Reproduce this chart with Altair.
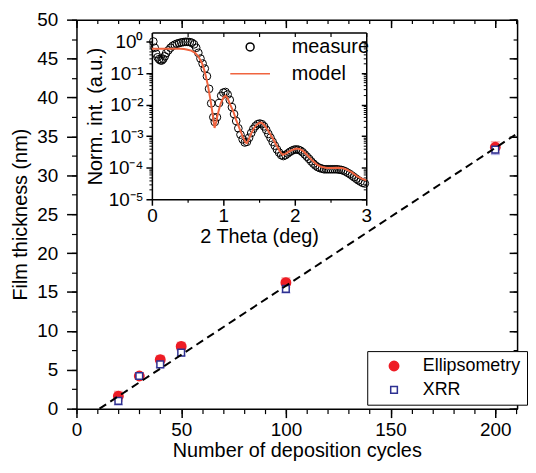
import altair as alt
import pandas as pd

FONT = "Liberation Sans"

# ---------------- main chart data ----------------
cycles = [20, 30, 40, 50, 100, 200]
ellip_thk = [1.6, 4.2, 6.3, 8.0, 16.2, 33.6]
ellip_err = [0.6, 0.4, 0.5, 0.5, 0.6, 0.7]
xrr_thk = [1.0, 4.2, 5.7, 7.2, 15.4, 33.3]
xrr_err = [0.5, 0.4, 0.4, 0.4, 0.5, 0.6]
fit_x = [11, 209.5]
fit_y = [0.0, 35.2]
series_names = ["Ellipsometry", "XRR"]
x_ticks = [0, 50, 100, 150, 200]
x_minor = list(range(0, 220, 10))
y_ticks = [0, 5, 10, 15, 20, 25, 30, 35, 40, 45, 50]
y_minor = [i * 2.5 for i in range(21)]

# ---------------- inset data ----------------
inset_series = ["measure", "model"]
model_theta = [0.00, 0.10, 0.20, 0.30, 0.40, 0.45, 0.50, 0.55, 0.60, 0.65, 0.70, 0.74, 0.78,
               0.82, 0.85, 0.877, 0.90, 0.92, 0.96, 1.00, 1.03, 1.06, 1.09, 1.14, 1.18, 1.23,
               1.27, 1.31, 1.33, 1.36, 1.39, 1.43, 1.46, 1.50, 1.53, 1.57, 1.62, 1.68, 1.74,
               1.79, 1.83, 1.87, 1.91, 1.96, 2.01, 2.06, 2.11, 2.17, 2.24, 2.31, 2.38, 2.45,
               2.52, 2.59, 2.66, 2.73, 2.80, 2.87, 2.94, 3.00]
model_log = [-0.23, -0.23, -0.23, -0.23, -0.23, -0.24, -0.26, -0.29, -0.35, -0.47, -0.68, -0.96,
             -1.35, -1.85, -2.30, -2.74, -2.55, -2.32, -1.98, -1.78, -1.72, -1.80, -1.97, -2.22,
             -2.49, -2.78, -3.01, -3.20, -3.22, -3.08, -2.91, -2.74, -2.65, -2.58, -2.57, -2.64,
             -2.80, -3.03, -3.27, -3.48, -3.59, -3.56, -3.50, -3.44, -3.40, -3.40, -3.46, -3.59,
             -3.76, -3.90, -3.98, -4.01, -4.01, -4.00, -4.01, -4.06, -4.15, -4.27, -4.35, -4.40]
meas_theta = [0.02, 0.04, 0.06, 0.08, 0.10, 0.12, 0.14, 0.16, 0.18, 0.20, 0.23, 0.26, 0.29,
              0.32, 0.35, 0.38, 0.41, 0.44, 0.47, 0.50, 0.53, 0.56, 0.59, 0.62, 0.65, 0.68,
              0.71, 0.74, 0.77, 0.80, 0.83, 0.86, 0.88, 0.91, 0.94, 0.97, 1.00, 1.03, 1.06,
              1.09, 1.12, 1.15, 1.18, 1.21, 1.24, 1.27, 1.30, 1.33, 1.36, 1.39, 1.42, 1.45,
              1.48, 1.51, 1.54, 1.57, 1.60, 1.63, 1.66, 1.69, 1.72, 1.75, 1.78, 1.81, 1.84,
              1.87, 1.90, 1.93, 1.96, 1.99, 2.02, 2.05, 2.08, 2.11, 2.14, 2.17, 2.20, 2.23,
              2.26, 2.29, 2.32, 2.35, 2.38, 2.41, 2.44, 2.47, 2.50, 2.53, 2.56, 2.59, 2.62,
              2.65, 2.68, 2.71, 2.74, 2.77, 2.80, 2.83, 2.86, 2.89, 2.92, 2.95, 2.98]
meas_log = [0.00, -0.20, -0.39, -0.50, -0.56, -0.60, -0.60, -0.55, -0.47, -0.37, -0.28, -0.20,
            -0.14, -0.10, -0.07, -0.05, -0.03, -0.02, -0.01, -0.01, -0.02, -0.04, -0.09, -0.20,
            -0.36, -0.54, -0.70, -0.86, -1.10, -1.50, -1.96, -2.40, -2.55, -2.40, -1.95, -1.72,
            -1.62, -1.60, -1.68, -1.85, -2.08, -2.30, -2.52, -2.75, -2.95, -3.10, -3.20, -3.18,
            -3.05, -2.90, -2.77, -2.68, -2.62, -2.60, -2.62, -2.69, -2.80, -2.93, -3.05, -3.18,
            -3.30, -3.42, -3.52, -3.60, -3.63, -3.60, -3.55, -3.50, -3.46, -3.43, -3.42, -3.43,
            -3.46, -3.51, -3.58, -3.65, -3.72, -3.80, -3.87, -3.93, -3.98, -4.01, -4.03, -4.05,
            -4.05, -4.05, -4.05, -4.05, -4.05, -4.05, -4.06, -4.07, -4.09, -4.12, -4.16, -4.20,
            -4.25, -4.30, -4.35, -4.40, -4.44, -4.48, -4.50]
inset_x_ticks = [0, 1, 2, 3]
inset_x_minor = [0.5, 1.5, 2.5]
inset_x_frame = [0, 0.5, 1, 1.5, 2, 2.5, 3]
inset_y_ticks = [1e-5, 1e-4, 1e-3, 1e-2, 1e-1, 1]
inset_y_minor = [m * 10.0 ** e for e in range(-5, 0) for m in range(2, 10)]

W, H = 444, 392
X_MAX = 210.4
# inset placement inside the plot area (pixels)
IX0, IX1 = 76, 292
IY_BOT, IY_TOP = 181, 13

# ---------------- frames ----------------
def series_df(vals, errs, name):
    return pd.DataFrame({
        "x": cycles, "y": vals,
        "lo": [v - e for v, e in zip(vals, errs)],
        "hi": [v + e for v, e in zip(vals, errs)],
        "series": name,
    })


ell_df = series_df(ellip_thk, ellip_err, series_names[0])
xrr_df = series_df(xrr_thk, xrr_err, series_names[1])
main_df = pd.concat([ell_df, xrr_df], ignore_index=True)
fit_df = pd.DataFrame({"x": fit_x, "y": fit_y})
meas_df = pd.DataFrame({"t": meas_theta, "I": [10 ** v for v in meas_log], "series": "measure"})
model_df = pd.DataFrame({"t": model_theta, "I": [10 ** v for v in model_log]})
dummy = pd.DataFrame({"x": [1.0], "y": [1.0]})


def ax(**kw):
    base = dict(grid=False, domainColor="black", tickColor="black", labelColor="black",
                labelFont=FONT, titleFont=FONT, labelFontSize=19, titleFontSize=20,
                titleColor="black", titleFontWeight="normal", labelFlush=False,
                labelOverlap=False)
    base.update(kw)
    return alt.Axis(**base)


main_xs = alt.Scale(domain=[0, X_MAX], nice=False, zero=False)
main_ys = alt.Scale(domain=[0, 50], nice=False, zero=False)
ins_xs = alt.Scale(domain=[0, 3], range=[IX0, IX1], nice=False, zero=False)
ins_ys = alt.Scale(type="log", domain=[1e-5, 1.92], range=[IY_BOT, IY_TOP], nice=False)

# ---- main axes ----
mx_axis = ax(orient="bottom", values=x_ticks, tickSize=9, tickWidth=1.5, domainWidth=1.5,
             labelPadding=3, titlePadding=1)
my_axis = ax(orient="left", values=y_ticks, tickSize=10, tickWidth=1.5, domainWidth=1.5,
             labelPadding=9, titlePadding=6)
XT = "Number of deposition cycles"
YT = "Film thickness (nm)"
MX = alt.X("x:Q", scale=main_xs, axis=mx_axis, title=XT)
MY = alt.Y("y:Q", scale=main_ys, axis=my_axis, title=YT)
MYLO = alt.Y("lo:Q", scale=main_ys, axis=my_axis, title=YT)
MYHI = alt.Y("hi:Q", scale=main_ys, axis=my_axis, title=YT)


def err_layers(df, col):
    r = alt.Chart(df).mark_rule(strokeWidth=2, color=col).encode(x=MX, y=MYLO, y2="hi:Q")
    lo = alt.Chart(df).mark_tick(orient="horizontal", size=9, thickness=1.8, color=col).encode(
        x=MX, y=MYLO)
    hi = alt.Chart(df).mark_tick(orient="horizontal", size=9, thickness=1.8, color=col).encode(
        x=MX, y=MYHI)
    return [r, lo, hi]


leg_main = alt.Legend(title=None, orient="none", legendX=293, legendY=334, strokeColor="black",
                      fillColor="white", padding=6, rowPadding=6, labelFontSize=18,
                      labelFont=FONT, labelColor="black", symbolOffset=12, labelOffset=20,
                      symbolStrokeWidth=1.5)
points = alt.Chart(main_df).mark_point(strokeWidth=1.5, opacity=1).encode(
    x=MX, y=MY,
    fill=alt.Fill("series:N", scale=alt.Scale(domain=series_names, range=["#ee1c25", "white"]),
                  legend=leg_main),
    stroke=alt.Stroke("series:N", scale=alt.Scale(domain=series_names, range=["#ee1c25", "#2e3192"]),
                      legend=leg_main),
    shape=alt.Shape("series:N", scale=alt.Scale(domain=series_names, range=["circle", "square"]),
                    legend=leg_main),
    size=alt.Size("series:N", scale=alt.Scale(type="point", domain=series_names, range=[90, 45],
                  padding=0), legend=leg_main),
)
fit = alt.Chart(fit_df).mark_line(color="black", strokeWidth=2, strokeDash=[8, 5]).encode(x=MX, y=MY)

L1 = alt.layer(*err_layers(ell_df, "#f39494"), *err_layers(xrr_df, "#9494dc"), points, fit)


def frame_layer(xaxis, yaxis, xs, ys):
    enc = {}
    enc["x"] = alt.X("x:Q", scale=xs, axis=xaxis, title=None) if xaxis is not None else \
        alt.X("x:Q", scale=xs, axis=None)
    enc["y"] = alt.Y("y:Q", scale=ys, axis=yaxis, title=None) if yaxis is not None else \
        alt.Y("y:Q", scale=ys, axis=None)
    return alt.Chart(dummy).mark_point(opacity=0).encode(**enc)


L2 = frame_layer(
    ax(orient="bottom", values=x_minor, tickSize=5, tickWidth=1.2, domain=False, labels=False),
    ax(orient="left", values=y_minor, tickSize=5, tickWidth=1.2, domain=False, labels=False),
    main_xs, main_ys)
L3 = frame_layer(
    ax(orient="bottom", offset=-H, values=x_ticks, tickSize=8, tickWidth=1.5, domainWidth=1.5,
       labels=False),
    ax(orient="left", offset=-W, values=y_ticks, tickSize=8, tickWidth=1.5, domainWidth=1.5,
       labels=False),
    main_xs, main_ys)
L4 = frame_layer(
    ax(orient="bottom", offset=-H, values=x_minor, tickSize=4, tickWidth=1.2, domain=False,
       labels=False),
    ax(orient="left", offset=-W, values=y_minor, tickSize=4, tickWidth=1.2, domain=False,
       labels=False),
    main_xs, main_ys)

# ---- inset ----
sup_expr = ("datum.value > 0.5 ? '10\u2070' : datum.value > 0.05 ? '10\u207b\u00b9' : "
            "datum.value > 0.005 ? '10\u207b\u00b2' : datum.value > 0.0005 ? '10\u207b\u00b3' : "
            "datum.value > 0.00005 ? '10\u207b\u2074' : '10\u207b\u2075'")
ix_axis = ax(orient="bottom", offset=IY_BOT - H, values=inset_x_ticks, tickSize=6, tickWidth=1.5,
             domainWidth=1.5, labelPadding=1, titlePadding=2)
iy_axis = ax(orient="left", offset=-IX0, values=inset_y_ticks, tickSize=6, tickWidth=1.5,
             domainWidth=1.5, labelPadding=3, titlePadding=2, labelExpr=sup_expr)
IX = alt.X("t:Q", scale=ins_xs, axis=ix_axis, title="2 Theta (deg)")
IY = alt.Y("I:Q", scale=ins_ys, axis=iy_axis, title="Norm. int. (a.u.)")

leg_inset = alt.Legend(title=None, orient="none", legendX=165, legendY=17.5, padding=0,
                       rowPadding=7, labelFontSize=20, labelFont=FONT, labelColor="black",
                       labelOffset=32, symbolStrokeWidth=1.5, symbolSize=64)
meas = alt.Chart(meas_df).mark_point(filled=False, strokeWidth=1, opacity=1, size=60).encode(
    x=IX, y=IY,
    color=alt.Color("series:N", scale=alt.Scale(domain=inset_series, range=["black", "#f0643f"]),
                    legend=leg_inset),
    shape=alt.Shape("series:N", scale=alt.Scale(domain=inset_series, range=["circle", "M-5,0H5"]),
                    legend=leg_inset),
)
model = alt.Chart(model_df).mark_line(color="#f0643f", strokeWidth=2).encode(x=IX, y=IY)
L5 = alt.layer(meas, model)

L6 = frame_layer(
    ax(orient="bottom", offset=IY_BOT - H, values=inset_x_minor, tickSize=3, tickWidth=1.2,
       domain=False, labels=False),
    ax(orient="left", offset=-IX0, values=inset_y_minor, tickSize=3, tickWidth=1,
       domain=False, labels=False),
    ins_xs, ins_ys)
L7 = frame_layer(
    ax(orient="bottom", offset=IY_TOP - H, values=inset_x_frame, tickSize=4, tickWidth=1.2,
       domainWidth=1.5, labels=False),
    ax(orient="left", offset=-IX1, values=inset_y_ticks, tickSize=5, tickWidth=1.5,
       domainWidth=1.5, labels=False),
    ins_xs, ins_ys)
L8 = frame_layer(
    None,
    ax(orient="left", offset=-IX1, values=inset_y_minor, tickSize=3, tickWidth=1,
       domain=False, labels=False),
    ins_xs, ins_ys)

chart = alt.layer(L1, L2, L3, L4, L5, L6, L7, L8).resolve_scale(
    x="independent", y="independent", color="independent", shape="independent",
    size="independent", fill="independent", stroke="independent"
).resolve_axis(x="independent", y="independent").resolve_legend(
    color="independent", shape="independent", size="independent", fill="independent",
    stroke="independent"
).properties(
    width=W, height=H, padding={"left": 2, "top": 1, "right": 0, "bottom": 0}, background="white"
).configure_view(stroke=None)

chart.save("out.html", embed_options={"renderer": "svg", "actions": False})
